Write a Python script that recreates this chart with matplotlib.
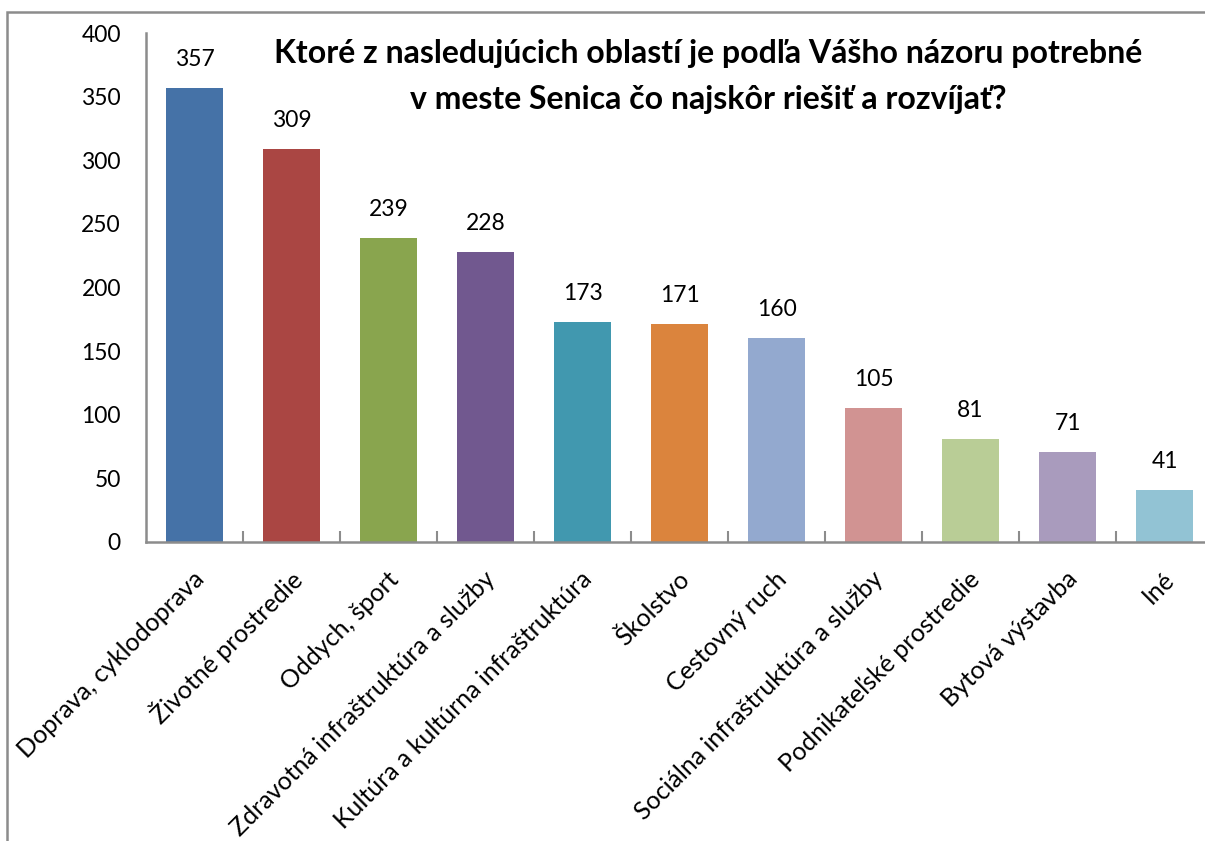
import matplotlib.pyplot as plt
from matplotlib.patches import Rectangle
from matplotlib.transforms import ScaledTranslation

plt.rcParams['font.family'] = ['Lato', 'DejaVu Sans']

# Survey answers (number of responses)
categories = [
    'Doprava, cyklodoprava',
    'Životné prostredie',
    'Oddych, šport',
    'Zdravotná infraštruktúra a služby',
    'Kultúra a kultúrna infraštruktúra',
    'Školstvo',
    'Cestovný ruch',
    'Sociálna infraštruktúra a služby',
    'Podnikateľské prostredie',
    'Bytová výstavba',
    'Iné',
]
counts = [357, 309, 239, 228, 173, 171, 160, 105, 81, 71, 41]
colors = ['#4572A7', '#AA4643', '#89A54E', '#71588F', '#4198AF', '#DB843D',
          '#93A9CF', '#D19392', '#B9CD96', '#A99BBD', '#92C3D4']
yticks = [0, 50, 100, 150, 200, 250, 300, 350, 400]

fig = plt.figure(figsize=(12.05, 8.41), dpi=100)

# outer chart border (right/bottom edges fall outside the picture)
fig.patches.append(Rectangle((7 / 1205, -0.05), 1.1, 1 - 12 / 841 + 0.05,
                             transform=fig.transFigure, fill=False,
                             edgecolor='#8c8c8c', linewidth=1.8))

ax = fig.add_axes([146 / 1205, 1 - 542 / 841, 1067 / 1205, 509 / 841])
x = list(range(len(categories)))
bars = ax.bar(x, counts, width=0.58, color=colors)
ax.bar_label(bars, padding=13, fontsize=16.5)

ax.set_xlim(-0.5, len(categories) - 0.5)
ax.set_ylim(0, 400)
ax.set_yticks(yticks)
ax.tick_params(axis='y', length=0, pad=18, labelsize=16.5)

ax.set_xticks([i + 0.5 for i in x[:-1]], minor=True)
ax.set_xticks(x)
ax.set_xticklabels(categories, rotation=45, ha='right', va='center',
                   rotation_mode='anchor', fontsize=18)
ax.tick_params(axis='x', which='major', length=0, pad=24)
ax.tick_params(axis='x', which='minor', direction='in', length=8,
               width=1.5, color='#8c8c8c')
for lbl in ax.get_xticklabels():
    lbl.set_transform(lbl.get_transform() + ScaledTranslation(6 / 100, 0, fig.dpi_scale_trans))

for side in ['top', 'right']:
    ax.spines[side].set_visible(False)
for side in ['left', 'bottom']:
    ax.spines[side].set_color('#8c8c8c')
    ax.spines[side].set_linewidth(1.8)

fig.text(708 / 1205, 1 - 54 / 841,
         'Ktoré z nasledujúcich oblastí je podľa Vášho názoru potrebné',
         ha='center', va='center', fontsize=23, fontweight='bold')
fig.text(708 / 1205, 1 - 99 / 841,
         'v meste Senica čo najskôr riešiť a rozvíjať?',
         ha='center', va='center', fontsize=23, fontweight='bold')

fig.savefig('out.png', dpi=100)
